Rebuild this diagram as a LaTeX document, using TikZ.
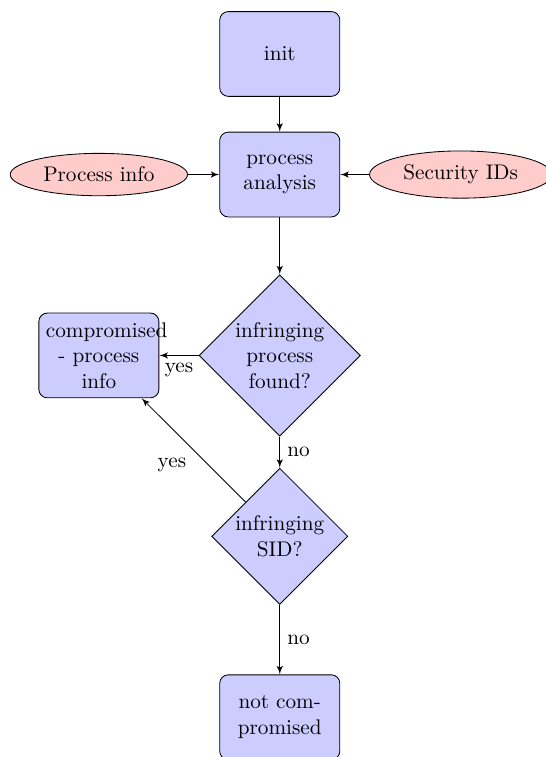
\documentclass[tikz,border=0pt]{standalone}
\usetikzlibrary{shapes.geometric,arrows}
\begin{document}
\begin{tikzpicture}[
  decision/.style={diamond, draw, fill=blue!20, text width=4.5em, text badly centered, inner sep=0pt},
  block/.style={rectangle, draw, fill=blue!20, text width=5em, text centered, rounded corners, minimum height=4em},
  line/.style={draw, -latex'},
  cloud/.style={draw, ellipse, fill=red!20, minimum height=2em}
]
\useasboundingbox (-4.64,0.895) rectangle (4.41,-11.66);
% main chain
\node [block] (init) at (0,0) {init};
\node [block] (analysis) at (0,-2) {process analysis};
\node [decision] (decide) at (0,-5) {infringing process found?};
\node [decision] (decidesid) at (0,-8) {infringing SID?};
\node [block] (safe) at (0,-11) {not compromised};
\node [block] (comp) at (-3,-5) {compromised - process info};
% inputs
\node [cloud] (pinfo) at (-3,-2) {Process info};
\node [cloud] (sids) at (3,-2) {Security IDs};
% connectors
\path [line] (init) -- (analysis);
\path [line] (pinfo) -- (analysis);
\path [line] (sids) -- (analysis);
\path [line] (analysis) -- (decide);
\path [line] (decide) -- node [below] {yes} (comp);
\path [line] (decide) -- node [right] {no} (decidesid);
\path [line] (decidesid) -- node [below left] {yes} (comp);
\path [line] (decidesid) -- node [right] {no} (safe);
\end{tikzpicture}
\end{document}
